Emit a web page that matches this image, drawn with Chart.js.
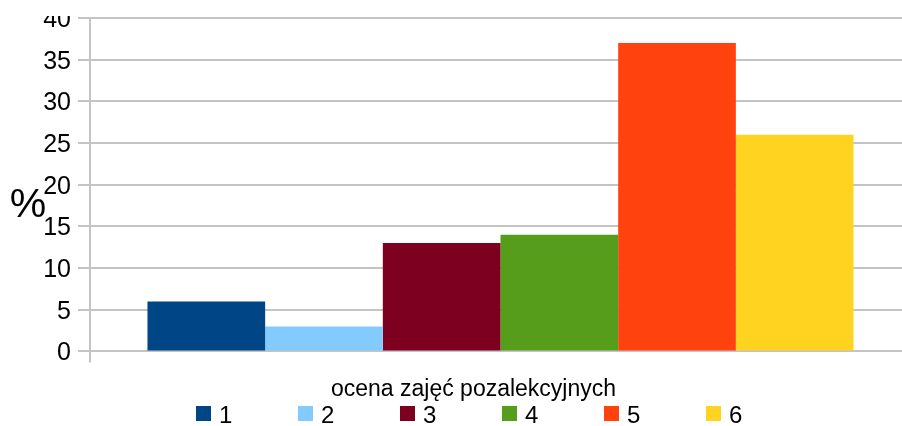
<!DOCTYPE html>
<html lang="pl">
<head>
    <meta charset="UTF-8">
    <title>ocena zajęć pozalekcyjnych</title>
    <script src="https://cdn.jsdelivr.net/npm/chart.js"></script>
    <style>
        body {
            margin: 0;
            background: #ffffff;
            overflow: hidden;
        }
        .wrap {
            width: 902px;
            height: 426px;
            overflow: hidden;
            position: relative;
        }
    </style>
</head>
<body>
    <div class="wrap">
        <canvas id="ocenaChart" width="911" height="426"></canvas>
    </div>

<script>
    // dane z wykresu
    const kategorie = ['ocena zajęć pozalekcyjnych'];
    const oceny = ['1', '2', '3', '4', '5', '6'];
    const procenty = [6, 3, 13, 14, 37, 26];
    const kolory = ['#004586', '#83caff', '#7e0021', '#579d1c', '#ff420e', '#ffd320'];
    const yTicki = [0, 5, 10, 15, 20, 25, 30, 35, 40];
    const yTytul = '%';

    const FONT = "'Liberation Sans', Arial, sans-serif";
    const GRID = '#c4c4c4';

    // legenda pod wykresem + znak % po lewej
    const dodatki = {
        id: 'dodatki',
        afterDraw(chart) {
            const ctx = chart.ctx;
            ctx.save();
            // góra obrazka jest ucięta tuż nad linią 40
            ctx.clearRect(0, 0, chart.width, chart.chartArea.top - 2);

            ctx.fillStyle = '#000';
            ctx.font = '41px ' + FONT;
            ctx.textAlign = 'center';
            ctx.textBaseline = 'alphabetic';
            ctx.fillText(yTytul, 28, 217);

            ctx.font = '24px ' + FONT;
            ctx.textAlign = 'left';
            chart.data.datasets.forEach((ds, i) => {
                const x = 196 + i * 102;
                ctx.fillStyle = ds.backgroundColor;
                ctx.fillRect(x, 406, 15, 15);
                ctx.fillStyle = '#000';
                ctx.fillText(ds.label, x + 23, 423);
            });
            ctx.restore();
        }
    };

    const ctx = document.getElementById('ocenaChart').getContext('2d');
    new Chart(ctx, {
        type: 'bar',
        data: {
            labels: kategorie,
            datasets: oceny.map((o, i) => ({
                label: o,
                data: [procenty[i]],
                backgroundColor: kolory[i],
                borderWidth: 0,
                categoryPercentage: 0.86,
                barPercentage: 1.0
            }))
        },
        options: {
            responsive: false,
            animation: false,
            layout: {
                padding: { top: 18, right: 0, bottom: 10, left: 0 }
            },
            plugins: {
                legend: { display: false },
                tooltip: { enabled: false }
            },
            scales: {
                x: {
                    grid: {
                        offset: true,
                        drawOnChartArea: false,
                        color: GRID,
                        lineWidth: 2,
                        tickLength: 11
                    },
                    border: { display: false },
                    ticks: {
                        color: '#000',
                        font: { family: FONT, size: 23 },
                        padding: 13,
                        labelOffset: -27,
                        maxRotation: 0
                    }
                },
                y: {
                    min: 0,
                    max: 40,
                    afterBuildTicks: (scale) => {
                        scale.ticks = yTicki.map(v => ({ value: v }));
                    },
                    afterFit: (scale) => {
                        scale.width = 90;
                        scale.paddingTop = 0;
                        scale.paddingBottom = 0;
                    },
                    grid: {
                        color: GRID,
                        lineWidth: 2,
                        tickLength: 12
                    },
                    border: { color: GRID, width: 2 },
                    ticks: {
                        color: '#000',
                        font: { family: FONT, size: 25 },
                        padding: 7,
                        labelOffset: 2
                    }
                }
            }
        },
        plugins: [dodatki]
    });
</script>
</body>
</html>
